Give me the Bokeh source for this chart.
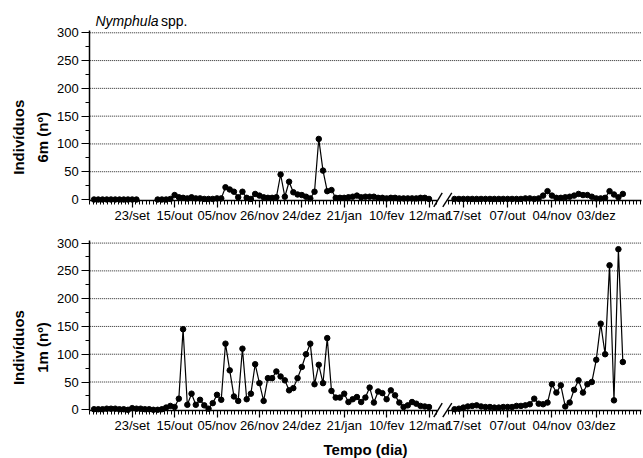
import math
import numpy as np
from bokeh.plotting import figure
from bokeh.layouts import column
from bokeh.models import Range1d, LinearAxis, FixedTicker, Label
from bokeh.embed import file_html
from bokeh.resources import INLINE

nan = float("nan")

# ---------------- data ----------------
# first season: sample index 1..80
top_season1 = [0, 0, 0, 0, 0, 0, 0, 0, 0, 0, 0, nan, nan, nan, nan,
               0, 0, 0, 1, 8, 4, 3, 2, 4, 2, 2, 1, 1, 1, 2, 2, 22, 18, 14, 4,
               14, 3, 1, 10, 7, 4, 3, 3, 4, 45, 5, 32, 13, 9, 8, 5, 2, 14, 109, 52,
               15, 17, 3, 3, 3, 4, 5, 7, 4, 5, 5, 5, 3, 3, 2, 3, 3, 2, 2, 2,
               2, 2, 3, 3, 1]
bottom_season1 = [1, 1, 1, 2, 2, 2, 1, 1, 0, 3, 2, 2, 1, 1, 0, 0, 1, 4, 7, 5,
                  20, 145, 9, 29, 9, 18, 8, 2, 12, 27, 18, 119, 71, 24, 16, 110, 19, 29, 82, 48,
                  16, 57, 57, 69, 60, 53, 35, 39, 57, 77, 100, 119, 46, 81, 48, 129, 34, 22, 22, 29,
                  14, 19, 23, 14, 22, 40, 13, 33, 30, 19, 35, 26, 13, 5, 8, 14, 11, 7, 6, 5]
# second season: sample index 0..38
top_season2 = [1, 1, 1, 1, 1, 1, 1, 1, 1, 1, 1, 1, 1, 1, 1, 1, 2, 2, 1, 2,
               7, 15, 7, 3, 3, 4, 5, 7, 10, 8, 8, 5, 2, 2, 3, 15, 9, 4, 10]
bottom_season2 = [1, 2, 4, 6, 7, 8, 6, 5, 5, 4, 4, 5, 5, 5, 7, 7, 8, 10, 20, 11,
                  10, 13, 46, 31, 44, 6, 13, 36, 53, 31, 46, 50, 90, 155, 100, 260, 17, 289, 86]

season1_tick_pos = [10, 20, 30, 40, 50, 60, 70, 80]
season1_tick_labels = ["23/set", "15/out", "05/nov", "26/nov", "24/dez", "21/jan", "10/fev", "12/mar"]
season2_tick_pos = [2, 12, 22, 32]
season2_tick_labels = ["17/set", "07/out", "04/nov", "03/dez"]
y_ticks = [0, 50, 100, 150, 200, 250, 300]
y_minor_ticks = [25, 75, 125, 175, 225, 275]
grid_values = [50, 100, 150, 200, 250, 300]

title_italic = "Nymphula"
title_rest = "spp."
ylabel_line1 = "Indivíduos"
ylabel_top_line2 = "6m (nº)"
ylabel_bottom_line2 = "1m (nº)"
xlabel = "Tempo (dia)"

# ---------------- layout constants (page pixels) ----------------
FONT = "Liberation Sans"
W = 643
PAGE_X0 = 0
AX_X = 89.3          # page x of y axis (sample 0 of season 1)
SX1 = 4.24           # px per sample, season 1
S2_X0 = 454.0        # page x of sample 0, season 2
SX2 = 4.43           # px per sample, season 2
RIGHT_END = 641.0
SY = 0.5557          # px per individual
AXIS_V = -1.8        # value where the x axis line sits
Y_TOP_END = 305
SPLIT = 226          # page y where the two panels meet
TOTAL_H = 458

def px_to_x1(px):
    return (px - AX_X) / SX1

def px_to_x2(px):
    return (px - S2_X0) / SX2


def make_panel(top_vals, s2_vals, canvas_top, canvas_bottom, zero_py, line2_text, with_title, with_xlabel):
    height = canvas_bottom - canvas_top
    yr = Range1d((zero_py - canvas_bottom) / SY, (zero_py - canvas_top) / SY)
    xr = Range1d(px_to_x1(PAGE_X0), px_to_x1(PAGE_X0 + W))
    p = figure(width=W, height=height, x_range=xr, y_range=yr,
               x_axis_location=None, y_axis_location=None,
               toolbar_location=None, output_backend="svg", title=None)
    p.extra_x_ranges = {"s2": Range1d(px_to_x2(PAGE_X0), px_to_x2(PAGE_X0 + W))}
    p.min_border = 0
    p.outline_line_color = None
    p.background_fill_color = "white"
    p.border_fill_color = "white"
    p.xgrid.visible = False
    p.ygrid.visible = False

    # dotted horizontal grid lines between the axis and the right end
    gx0 = [0] * len(grid_values)
    gx1 = [px_to_x1(RIGHT_END)] * len(grid_values)
    p.segment(x0=gx0, y0=grid_values, x1=gx1, y1=grid_values,
              line_color="#222222", line_width=1, line_dash="1 1")

    def style(ax):
        ax.axis_line_width = 1.5
        ax.axis_line_color = "black"
        ax.major_tick_line_width = 1.2
        ax.minor_tick_line_width = 1
        ax.major_tick_line_color = "black"
        ax.minor_tick_line_color = "black"
        ax.major_tick_in = 0
        ax.minor_tick_in = 0
        ax.major_label_text_font = FONT
        ax.major_label_text_font_size = "13px"
        ax.major_label_text_color = "black"

    # y axis
    yax = LinearAxis(fixed_location=0,
                     ticker=FixedTicker(ticks=y_ticks, minor_ticks=y_minor_ticks),
                     bounds=(AXIS_V, Y_TOP_END))
    style(yax)
    yax.major_tick_out = 8
    yax.minor_tick_out = 4
    yax.major_label_standoff = 3
    p.add_layout(yax, "left")

    # x axis, season 1
    minor1 = [float(v) for v in np.arange(0, 82.1, 10 / 12)]
    xax1 = LinearAxis(fixed_location=AXIS_V,
                      ticker=FixedTicker(ticks=season1_tick_pos, minor_ticks=minor1),
                      bounds=(0, px_to_x1(437.4)))
    xax1.major_label_overrides = {t: l for t, l in zip(season1_tick_pos, season1_tick_labels)}
    style(xax1)
    xax1.major_tick_out = 7
    xax1.minor_tick_out = 4
    xax1.major_label_standoff = 0
    p.add_layout(xax1, "below")

    # x axis, season 2
    lo2 = px_to_x2(447.0)
    hi2 = px_to_x2(RIGHT_END)
    minor2 = [2 + k * 10 / 12 for k in range(-6, 60) if lo2 <= 2 + k * 10 / 12 <= hi2]
    xax2 = LinearAxis(x_range_name="s2", fixed_location=AXIS_V,
                      ticker=FixedTicker(ticks=season2_tick_pos, minor_ticks=minor2),
                      bounds=(lo2, hi2))
    xax2.major_label_overrides = {t: l for t, l in zip(season2_tick_pos, season2_tick_labels)}
    style(xax2)
    xax2.major_tick_out = 7
    xax2.minor_tick_out = 4
    xax2.major_label_standoff = 0
    p.add_layout(xax2, "below")

    # data
    x1 = list(range(1, len(top_vals) + 1))
    x2 = list(range(len(s2_vals)))
    p.line(x1, top_vals, line_color="black", line_width=1.2)
    p.scatter(x1, top_vals, size=5.5, marker="circle", fill_color="black", line_color="black")
    p.line(x2, s2_vals, line_color="black", line_width=1.2, x_range_name="s2")
    p.scatter(x2, s2_vals, size=5.5, marker="circle", fill_color="black", line_color="black",
              x_range_name="s2")

    # axis break marks
    p.segment(x0=[px_to_x1(433.3), px_to_x1(442.3)], y0=[AXIS_V - 6.4 / SY] * 2,
              x1=[px_to_x1(441.7), px_to_x1(451.3)], y1=[AXIS_V + 7.6 / SY] * 2,
              line_color="black", line_width=1.4, level="overlay")

    # y label (two lines)
    ymid = 112
    p.add_layout(Label(x=px_to_x1(18.0), y=ymid, text=ylabel_line1, angle=math.pi / 2,
                       text_align="center", text_baseline="middle", text_font=FONT,
                       text_font_size="15px", text_font_style="bold", text_color="black"))
    p.add_layout(Label(x=px_to_x1(41.5), y=ymid, text=line2_text, angle=math.pi / 2,
                       text_align="center", text_baseline="middle", text_font=FONT,
                       text_font_size="15px", text_font_style="bold", text_color="black"))

    if with_title:
        ty = (zero_py - 12.0) / SY
        p.add_layout(Label(x=px_to_x1(95.0), y=ty, text=title_italic, text_align="left",
                           text_baseline="top", text_font=FONT, text_font_size="14px",
                           text_font_style="italic", text_color="black"))
        p.add_layout(Label(x=px_to_x1(160.5), y=ty, text=title_rest, text_align="left",
                           text_baseline="top", text_font=FONT, text_font_size="14px",
                           text_color="black"))
    if with_xlabel:
        p.add_layout(Label(x=px_to_x1(365.0), y=(zero_py - 440.0) / SY, text=xlabel,
                           text_align="center", text_baseline="top", text_font=FONT,
                           text_font_size="15px", text_font_style="bold", text_color="black"))
    return p


p_top = make_panel(top_season1, top_season2, 0, SPLIT, 199.0, ylabel_top_line2, True, False)
p_bot = make_panel(bottom_season1, bottom_season2, SPLIT, TOTAL_H, 409.3, ylabel_bottom_line2, False, True)

layout = column(p_top, p_bot, spacing=0)
open("out.html", "w").write(file_html(layout, INLINE))
